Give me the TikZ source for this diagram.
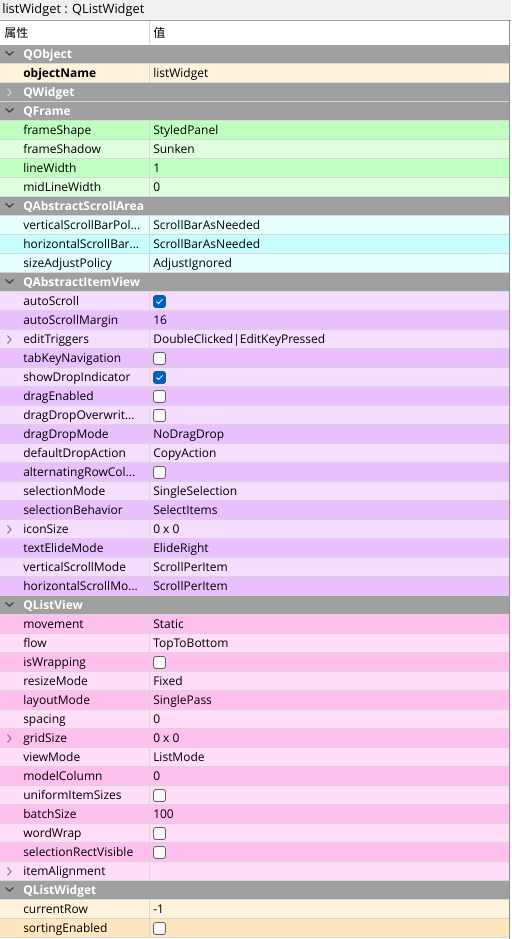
\documentclass[tikz,border=0pt]{standalone}
\usepackage{fontspec}
\setmainfont{Open Sans}
\newfontfamily\cjk{Noto Sans CJK SC}
\definecolor{orD}{RGB}{255,230,191}
\definecolor{orL}{RGB}{255,242,221}
\definecolor{grD}{RGB}{191,255,191}
\definecolor{grL}{RGB}{221,255,221}
\definecolor{cyD}{RGB}{199,255,255}
\definecolor{cyL}{RGB}{229,255,255}
\definecolor{lvD}{RGB}{234,191,255}
\definecolor{lvL}{RGB}{244,221,255}
\definecolor{pkD}{RGB}{255,191,239}
\definecolor{pkL}{RGB}{255,221,246}
\definecolor{grpgray}{RGB}{160,160,160}
\definecolor{sepgray}{RGB}{214,214,214}
\definecolor{titlebg}{RGB}{240,240,240}
\definecolor{bordergray}{RGB}{140,144,150}
\definecolor{chkblue}{RGB}{0,95,184}
\definecolor{boxborder}{RGB}{96,96,96}
\definecolor{boxfill}{RGB}{250,250,250}
\definecolor{chevdark}{RGB}{70,70,70}
\definecolor{chevlight}{RGB}{200,200,200}
\definecolor{chevmid}{RGB}{128,128,128}
\tikzset{
  sepline/.style={draw=sepgray, line width=0.75pt},
  pname/.style={anchor=base west, inner sep=0pt, font=\fontsize{9}{11}\selectfont, text=black},
  pval/.style={anchor=base west, inner sep=0pt, font=\fontsize{9}{11}\selectfont, text=black},
  titletext/.style={anchor=base west, inner sep=0pt, font=\fontsize{9.6}{11}\selectfont, text=black},
  gname/.style={anchor=base west, inner sep=0pt, font=\fontsize{9}{11}\selectfont\bfseries, text=white},
  hname/.style={anchor=base west, inner sep=0pt, font=\fontsize{9}{11}\selectfont\cjk, text=black},
  cbon/.style={draw=chkblue, fill=chkblue, line width=0.6pt, minimum size=9pt, inner sep=0pt, rounded corners=1.8pt},
  cboff/.style={draw=boxborder, fill=boxfill, line width=0.6pt, minimum size=9pt, inner sep=0pt, rounded corners=1.8pt},
  checkmk/.style={draw=white, line width=0.6pt},
  chevexp/.style={draw=chevdark, line width=1pt},
  chevcol/.style={draw=chevlight, line width=1pt},
  chevprop/.style={draw=chevmid, line width=0.8pt},
}
\newcommand\bgrow[2]{%
  \pgfmathtruncatemacro\rt{45+19*(#1-1)}%
  \ifodd#1\relax\def\rc{#2D}\else\def\rc{#2L}\fi
  \fill[fill=\rc] (0,\rt) rectangle (509,\rt+19);
  \draw[sepline] (0,\rt+18.5) -- (509,\rt+18.5);
  \draw[sepline] (149.5,\rt) -- (149.5,\rt+18);
}
\newcommand\prop[4]{%
  \bgrow{#1}{#2}%
  \node[pname] (n#1) at (23,\rt+13.6) {#3};
  \node[pval] (v#1) at (153,\rt+13.6) {#4};
}
\newcommand\pbold[4]{%
  \bgrow{#1}{#2}%
  \node[pname, font=\fontsize{9}{11}\selectfont\bfseries] (n#1) at (23,\rt+13.6) {#3};
  \node[pval] (v#1) at (153,\rt+13.6) {#4};
}
\newcommand\pcb[4]{%
  \bgrow{#1}{#2}%
  \node[pname] (n#1) at (23,\rt+13.6) {#3};
  \ifnum#4=1
    \node[cbon] (v#1) at (159.5,\rt+9.5) {};
    \draw[checkmk] ([shift={(-3,0)}]v#1.center) -- ([shift={(-1,2)}]v#1.center) -- ([shift={(3,-2.2)}]v#1.center);
  \else
    \node[cboff] (v#1) at (159.5,\rt+9.5) {};
  \fi
}
\newcommand\chev[1]{%
  \pgfmathtruncatemacro\ct{45+19*(#1-1)}%
  \draw[chevprop] (7.5,\ct+5.5) -- (11,\ct+9.5) -- (7.5,\ct+13.5);
}
\newcommand\grp[3]{%
  \pgfmathtruncatemacro\rt{45+19*(#1-1)}%
  \fill[grpgray] (0,\rt) rectangle (509,\rt+19);
  \draw[sepline] (0,\rt+18.5) -- (509,\rt+18.5);
  \node[gname] (g#1) at (23,\rt+13.6) {#2};
  \ifnum#3=1
    \draw[chevexp] (5.5,\rt+6.5) -- (9.5,\rt+10) -- (13.5,\rt+6.5);
  \else
    \draw[chevcol] (7.5,\rt+5.5) -- (11,\rt+9.5) -- (7.5,\rt+13.5);
  \fi
}
\begin{document}
\begin{tikzpicture}[x=0.75pt, y=-0.75pt]
\useasboundingbox (0,0) rectangle (511,939);
\fill[white] (0,0) rectangle (511,939);
% title bar
\fill[titlebg] (0,0) rectangle (511,20);
\node[titletext] (title) at (2,13.8) {listWidget : QListWidget};
\draw[draw=grpgray, line width=0.75pt] (0,20.5) -- (511,20.5);
% header
\node[hname] (h1) at (4,37) {属性};
\node[hname] (h2) at (153,37) {值};
\draw[sepline] (149.5,21) -- (149.5,44);
% rows
\grp{1}{QObject}{1}
\pbold{2}{or}{objectName}{listWidget}
\grp{3}{QWidget}{0}
\grp{4}{QFrame}{1}
\prop{5}{gr}{frameShape}{StyledPanel}
\prop{6}{gr}{frameShadow}{Sunken}
\prop{7}{gr}{lineWidth}{1}
\prop{8}{gr}{midLineWidth}{0}
\grp{9}{QAbstractScrollArea}{1}
\prop{10}{cy}{verticalScrollBarPol...}{ScrollBarAsNeeded}
\prop{11}{cy}{horizontalScrollBar...}{ScrollBarAsNeeded}
\prop{12}{cy}{sizeAdjustPolicy}{AdjustIgnored}
\grp{13}{QAbstractItemView}{1}
\pcb{14}{lv}{autoScroll}{1}
\prop{15}{lv}{autoScrollMargin}{16}
\prop{16}{lv}{editTriggers}{DoubleClicked|EditKeyPressed}
\chev{16}
\pcb{17}{lv}{tabKeyNavigation}{0}
\pcb{18}{lv}{showDropIndicator}{1}
\pcb{19}{lv}{dragEnabled}{0}
\pcb{20}{lv}{dragDropOverwrit...}{0}
\prop{21}{lv}{dragDropMode}{NoDragDrop}
\prop{22}{lv}{defaultDropAction}{CopyAction}
\pcb{23}{lv}{alternatingRowCol...}{0}
\prop{24}{lv}{selectionMode}{SingleSelection}
\prop{25}{lv}{selectionBehavior}{SelectItems}
\prop{26}{lv}{iconSize}{0 x 0}
\chev{26}
\prop{27}{lv}{textElideMode}{ElideRight}
\prop{28}{lv}{verticalScrollMode}{ScrollPerItem}
\prop{29}{lv}{horizontalScrollMo...}{ScrollPerItem}
\grp{30}{QListView}{1}
\prop{31}{pk}{movement}{Static}
\prop{32}{pk}{flow}{TopToBottom}
\pcb{33}{pk}{isWrapping}{0}
\prop{34}{pk}{resizeMode}{Fixed}
\prop{35}{pk}{layoutMode}{SinglePass}
\prop{36}{pk}{spacing}{0}
\prop{37}{pk}{gridSize}{0 x 0}
\chev{37}
\prop{38}{pk}{viewMode}{ListMode}
\prop{39}{pk}{modelColumn}{0}
\pcb{40}{pk}{uniformItemSizes}{0}
\prop{41}{pk}{batchSize}{100}
\pcb{42}{pk}{wordWrap}{0}
\pcb{43}{pk}{selectionRectVisible}{0}
\prop{44}{pk}{itemAlignment}{}
\chev{44}
\grp{45}{QListWidget}{1}
\prop{46}{or}{currentRow}{-1}
\pcb{47}{or}{sortingEnabled}{0}
% right border
\draw[draw=bordergray, line width=0.75pt] (509.5,20) -- (509.5,939);
\end{tikzpicture}
\end{document}
